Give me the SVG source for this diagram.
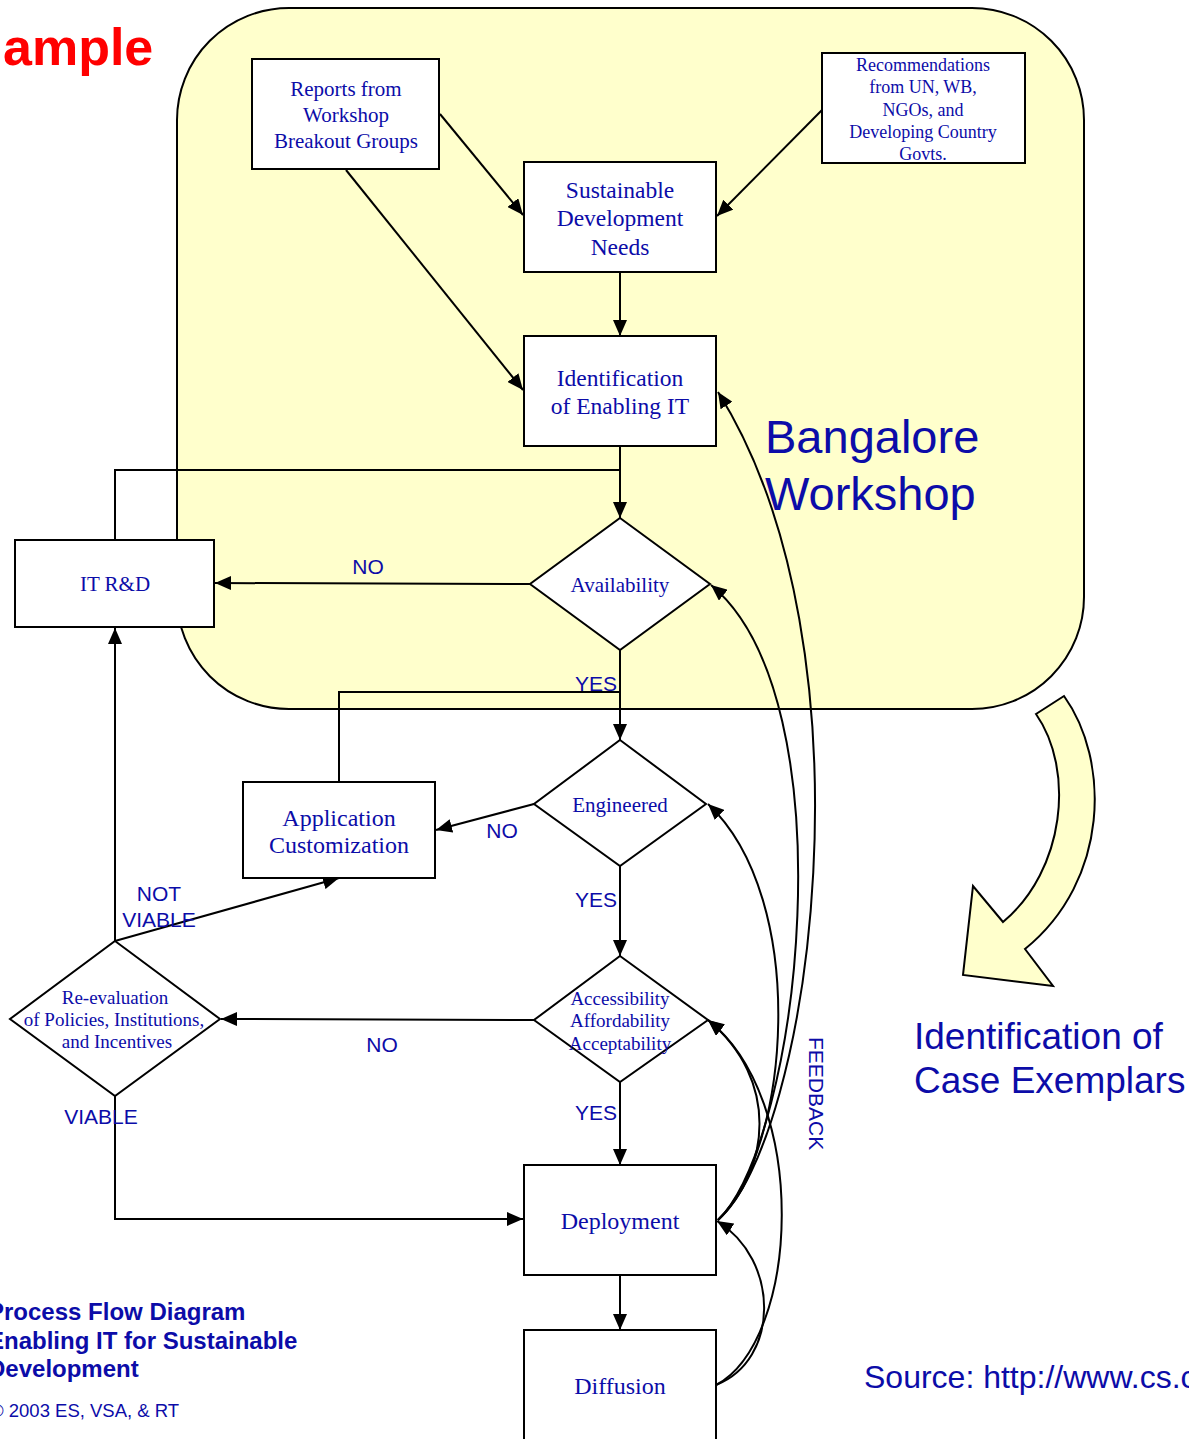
<svg xmlns="http://www.w3.org/2000/svg" width="1189" height="1439" viewBox="0 0 1189 1439">
<defs>
<marker id="ah" viewBox="0 0 16 14" refX="16" refY="7" markerWidth="16" markerHeight="14" markerUnits="userSpaceOnUse" orient="auto">
<path d="M0,0 L16,7 L0,14 Z" fill="#000"/>
</marker>
<style>
.box{fill:#fff;stroke:#000;stroke-width:2}
.n{font-family:"Liberation Serif","Times New Roman",serif;fill:#0c0ca8;text-anchor:middle}
.l{font-family:"Liberation Sans",Arial,sans-serif;fill:#0c0ca8}
.c{fill:none;stroke:#000;stroke-width:2}
.a{marker-end:url(#ah)}
</style>
</defs>
<rect x="0" y="0" width="1189" height="1439" fill="#fff"/>
<g id="workshop-region">
<rect x="177" y="8" width="907" height="701" rx="112" ry="112" fill="#FFFFCC" stroke="#000" stroke-width="2"/>
<text class="l" x="765" y="453" font-size="47">Bangalore</text>
<text class="l" x="765" y="510" font-size="47">Workshop</text>
</g>
<g id="big-arrow">
<path d="M1036,714 L1064,696 C1110,760 1110,880 1025,949 L1053,986 L963,975 L973,886 L1003,922 C1065,870 1075,770 1036,714 Z" fill="#FFFFCC" stroke="#000" stroke-width="2"/>
</g>
<g id="connectors">
<path class="c a" d="M440,114 L523,215"/>
<path class="c a" d="M346,170 L523,390"/>
<path class="c a" d="M822,110 L717,216"/>
<path class="c a" d="M620,272 L620,336"/>
<path class="c a" d="M620,446 L620,518"/>
<path class="c" d="M115,540 L115,470 L620,470"/>
<path class="c a" d="M530,584 L215,583"/>
<path class="c a" d="M620,650 L620,740"/>
<path class="c" d="M339,782 L339,692 L620,692"/>
<path class="c a" d="M534,804 L436,830"/>
<path class="c a" d="M620,866 L620,956"/>
<path class="c a" d="M534,1020 L221,1019"/>
<path class="c a" d="M620,1082 L620,1165"/>
<path class="c a" d="M115,941 L339,878"/>
<path class="c a" d="M115,941 L115,628"/>
<path class="c a" d="M115,1096 L115,1219 L523,1219"/>
<path class="c a" d="M620,1275 L620,1330"/>
<path class="c a" d="M718,1220 C810,1140 880,650 718,392"/>
<path class="c a" d="M718,1220 C800,1140 850,700 711,585"/>
<path class="c a" d="M718,1220 C790,1150 810,900 708,804"/>
<path class="c a" d="M718,1220 C770,1170 780,1080 708,1020"/>
<path class="c a" d="M716,1385 C800,1340 810,1100 708,1020"/>
<path class="c a" d="M716,1385 C780,1360 780,1260 717,1221"/>
<text class="l" x="368" y="574" font-size="21" text-anchor="middle">NO</text>
<text class="l" x="596" y="691" font-size="21" text-anchor="middle">YES</text>
<text class="l" x="502" y="838" font-size="21" text-anchor="middle">NO</text>
<text class="l" x="596" y="907" font-size="21" text-anchor="middle">YES</text>
<text class="l" x="159" y="901" font-size="21" text-anchor="middle">NOT</text>
<text class="l" x="159" y="927" font-size="21" text-anchor="middle">VIABLE</text>
<text class="l" x="382" y="1052" font-size="21" text-anchor="middle">NO</text>
<text class="l" x="101" y="1124" font-size="21" text-anchor="middle">VIABLE</text>
<text class="l" x="596" y="1120" font-size="21" text-anchor="middle">YES</text>
<text class="l" x="809" y="1037" font-size="21" transform="rotate(90 809 1037)">FEEDBACK</text>
</g>
<g id="reports">
<rect class="box" x="252" y="59" width="187" height="110"/>
<text class="n" font-size="21"><tspan x="346" y="96">Reports from</tspan><tspan x="346" y="122">Workshop</tspan><tspan x="346" y="148">Breakout Groups</tspan></text>
</g>
<g id="recommendations">
<rect class="box" x="822" y="53" width="203" height="110"/>
<text class="n" font-size="18"><tspan x="923" y="71">Recommendations</tspan><tspan x="923" y="93">from UN, WB,</tspan><tspan x="923" y="116">NGOs, and</tspan><tspan x="923" y="138">Developing Country</tspan><tspan x="923" y="160">Govts.</tspan></text>
</g>
<g id="sustainable">
<rect class="box" x="524" y="162" width="192" height="110"/>
<text class="n" font-size="23.5"><tspan x="620" y="198">Sustainable</tspan><tspan x="620" y="226">Development</tspan><tspan x="620" y="255">Needs</tspan></text>
</g>
<g id="identification">
<rect class="box" x="524" y="336" width="192" height="110"/>
<text class="n" font-size="23.5"><tspan x="620" y="386">Identification</tspan><tspan x="620" y="414">of Enabling IT</tspan></text>
</g>
<g id="availability">
<polygon class="box" points="620,518 710,584 620,650 530,584"/>
<text class="n" x="620" y="592" font-size="21">Availability</text>
</g>
<g id="itrd">
<rect class="box" x="15" y="540" width="199" height="87"/>
<text class="n" x="115" y="591" font-size="21">IT R&amp;D</text>
</g>
<g id="engineered">
<polygon class="box" points="620,740 706,804 620,866 534,804"/>
<text class="n" x="620" y="812" font-size="21">Engineered</text>
</g>
<g id="appcust">
<rect class="box" x="243" y="782" width="192" height="96"/>
<text class="n" font-size="24"><tspan x="339" y="826">Application</tspan><tspan x="339" y="853">Customization</tspan></text>
</g>
<g id="access">
<polygon class="box" points="620,956 708,1020 620,1082 534,1020"/>
<text class="n" font-size="19"><tspan x="620" y="1004.5">Accessibility</tspan><tspan x="620" y="1026.5">Affordability</tspan><tspan x="620" y="1049.5">Acceptability</tspan></text>
</g>
<g id="reeval">
<polygon class="box" points="115,941 220,1019 115,1096 10,1019"/>
<text class="n" font-size="19"><tspan x="115" y="1004">Re-evaluation</tspan><tspan x="114" y="1026">of Policies, Institutions,</tspan><tspan x="117" y="1048">and Incentives</tspan></text>
</g>
<g id="deployment">
<rect class="box" x="524" y="1165" width="192" height="110"/>
<text class="n" x="620" y="1229" font-size="24">Deployment</text>
</g>
<g id="diffusion">
<rect class="box" x="524" y="1330" width="192" height="130"/>
<text class="n" x="620" y="1394" font-size="24">Diffusion</text>
</g>
<g id="annotations">
<text x="3" y="65" font-family="Liberation Sans, Arial, sans-serif" font-weight="bold" font-size="52" fill="#ff0000">ample</text>
<text class="l" x="914" y="1049" font-size="37">Identification of</text>
<text class="l" x="914" y="1093" font-size="37">Case Exemplars</text>
<text class="l" font-size="24" font-weight="bold"><tspan x="-12" y="1320">Process Flow Diagram</tspan><tspan x="-12" y="1349">Enabling IT for Sustainable</tspan><tspan x="-12" y="1377">Development</tspan></text>
<text class="l" x="-10" y="1417" font-size="18.5">© 2003 ES, VSA, &amp; RT</text>
<text class="l" x="864" y="1388" font-size="32">Source: http://www.cs.c</text>
</g>
</svg>
